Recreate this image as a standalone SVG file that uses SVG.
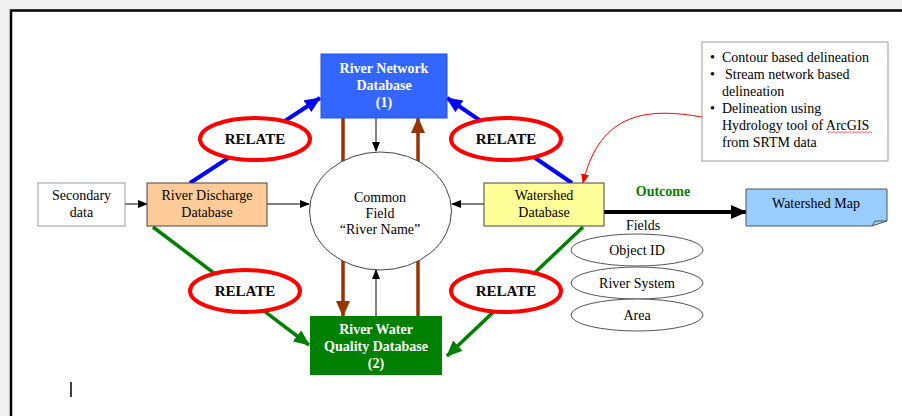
<svg xmlns="http://www.w3.org/2000/svg" width="902" height="416" viewBox="0 0 902 416">
<style>
text{font-family:"Liberation Serif","Times New Roman",serif;font-size:14px;fill:#000}
.c{text-anchor:middle}
.b{font-weight:bold}
.w{fill:#fff}
.relate{fill:#fff;stroke:#ff0000;stroke-width:4}
.fld{fill:#fff;stroke:#555;stroke-width:1}
.thin{stroke:#000;stroke-width:1;fill:none}
.blue{stroke:#0000ff;stroke-width:4;fill:none}
.green{stroke:#008000;stroke-width:3.5;fill:none}
.brown{stroke:#993300;stroke-width:3.5;fill:none}
</style>
<defs>
<marker id="ak" markerUnits="userSpaceOnUse" markerWidth="10" markerHeight="8" refX="9" refY="4" orient="auto"><path d="M0,0 L10,4 L0,8 z" fill="#000"/></marker>
<marker id="akb" markerUnits="userSpaceOnUse" markerWidth="16" markerHeight="14" refX="15" refY="7" orient="auto"><path d="M0,0 L16,7 L0,14 z" fill="#000"/></marker>
<marker id="ab" markerUnits="userSpaceOnUse" markerWidth="16" markerHeight="14" refX="15" refY="7" orient="auto"><path d="M0,0 L16,7 L0,14 z" fill="#0000ff"/></marker>
<marker id="ag" markerUnits="userSpaceOnUse" markerWidth="16" markerHeight="14" refX="15" refY="7" orient="auto"><path d="M0,0 L16,7 L0,14 z" fill="#008000"/></marker>
<marker id="abr" markerUnits="userSpaceOnUse" markerWidth="16" markerHeight="14" refX="15" refY="7" orient="auto"><path d="M0,0 L16,7 L0,14 z" fill="#993300"/></marker>
<marker id="ar" markerUnits="userSpaceOnUse" markerWidth="10" markerHeight="8" refX="9" refY="4" orient="auto"><path d="M0,0 L10,4 L0,8 z" fill="#ff0000"/></marker>
</defs>
<rect x="0" y="0" width="902" height="416" fill="#fff"/>
<rect x="0" y="0" width="902" height="9" fill="#f0f0f0"/>
<rect x="0" y="0" width="10" height="416" fill="#f0f0f0"/>
<path d="M11,416 L11,10.5 L902,10.5" fill="none" stroke="#000" stroke-width="2.5"/>

<g id="connectors">
<line class="blue" x1="190" y1="183" x2="320" y2="98" marker-end="url(#ab)"/>
<line class="blue" x1="572" y1="183" x2="447" y2="98" marker-end="url(#ab)"/>
<line class="green" x1="153" y1="227" x2="309" y2="345" marker-end="url(#ag)"/>
<line class="green" x1="583" y1="227" x2="447" y2="356" marker-end="url(#ag)"/>
<line class="brown" x1="343" y1="118" x2="343" y2="316" marker-end="url(#abr)"/>
<line class="brown" x1="418" y1="316" x2="418" y2="118" marker-end="url(#abr)"/>
<line class="thin" x1="376" y1="118" x2="376" y2="151" marker-end="url(#ak)"/>
<line class="thin" x1="376" y1="316" x2="376" y2="270" marker-end="url(#ak)"/>
<line class="thin" x1="125" y1="204" x2="147" y2="204" marker-end="url(#ak)"/>
<line class="thin" x1="267" y1="204" x2="309" y2="204" marker-end="url(#ak)"/>
<line class="thin" x1="484" y1="204" x2="452" y2="204" marker-end="url(#ak)"/>
<line x1="604" y1="212" x2="746" y2="212" stroke="#000" stroke-width="4" marker-end="url(#akb)"/>
<path d="M702,117 C650,108 600,110 583,183" fill="none" stroke="#ff0000" stroke-width="1" marker-end="url(#ar)"/>
</g>

<g id="common-field">
<ellipse cx="380.5" cy="211" rx="71" ry="59" fill="#fff" stroke="#444" stroke-width="1"/>
<text class="c" x="380" y="202">Common</text>
<text class="c" x="380" y="218">Field</text>
<text class="c" x="380" y="234">“River Name”</text>
</g>

<g id="river-network">
<rect x="321" y="54" width="126" height="64" fill="#3366ff" stroke="#2255ee" stroke-width="1"/>
<text class="c b w" x="384" y="73">River Network</text>
<text class="c b w" x="384" y="90">Database</text>
<text class="c b w" x="384" y="107">(1)</text>
</g>

<g id="river-quality">
<rect x="310" y="316" width="132" height="59" fill="#008000"/>
<text class="c b w" x="376" y="334">River Water</text>
<text class="c b w" x="376" y="351">Quality Database</text>
<text class="c b w" x="376" y="368">(2)</text>
</g>

<g id="secondary">
<rect x="38" y="183" width="87" height="43" fill="#fff" stroke="#999" stroke-width="1"/>
<text class="c" x="81.5" y="200">Secondary</text>
<text class="c" x="81.5" y="217">data</text>
</g>

<g id="discharge">
<rect x="147" y="183" width="120" height="43" fill="#ffcc99" stroke="#444" stroke-width="1"/>
<text class="c" x="207" y="200">River Discharge</text>
<text class="c" x="207" y="217">Database</text>
</g>

<g id="watershed">
<rect x="484" y="183" width="120" height="43" fill="#ffff99" stroke="#444" stroke-width="1"/>
<text class="c" x="544" y="200">Watershed</text>
<text class="c" x="544" y="217">Database</text>
</g>

<g id="watershed-map">
<path d="M746,189 L887,189 L887,221 L872,226 L746,226 Z" fill="#99ccff" stroke="#555" stroke-width="1"/>
<path d="M872,226 L875,221 L887,221" fill="none" stroke="#555" stroke-width="1"/>
<text class="c" x="816" y="208">Watershed Map</text>
</g>

<g id="relate-1">
<ellipse class="relate" cx="255" cy="139" rx="55" ry="21"/>
<text class="c b" x="255" y="144" style="font-size:15px">RELATE</text>
</g>
<g id="relate-2">
<ellipse class="relate" cx="506" cy="139" rx="55" ry="21"/>
<text class="c b" x="506" y="144" style="font-size:15px">RELATE</text>
</g>
<g id="relate-3">
<ellipse class="relate" cx="245" cy="291" rx="55" ry="21"/>
<text class="c b" x="245" y="296" style="font-size:15px">RELATE</text>
</g>
<g id="relate-4">
<ellipse class="relate" cx="506" cy="291" rx="55" ry="21"/>
<text class="c b" x="506" y="296" style="font-size:15px">RELATE</text>
</g>

<text class="c b" x="663" y="196" style="fill:#008000">Outcome</text>

<g id="fields">
<text class="c" x="643" y="230">Fields</text>
<ellipse class="fld" cx="637" cy="250" rx="66" ry="16"/>
<text class="c" x="637" y="255">Object ID</text>
<ellipse class="fld" cx="637" cy="283" rx="66" ry="16"/>
<text class="c" x="637" y="288">River System</text>
<ellipse class="fld" cx="637" cy="315" rx="66" ry="16"/>
<text class="c" x="637" y="320">Area</text>
</g>

<g id="note">
<rect x="702" y="42" width="186" height="119" fill="#fff" stroke="#999" stroke-width="1"/>
<text x="710" y="62">•</text><text x="722" y="62">Contour based delineation</text>
<text x="710" y="79">•</text><text x="725" y="79">Stream network based</text>
<text x="722" y="96">delineation</text>
<text x="710" y="113">•</text><text x="722" y="113">Delineation using</text>
<text x="722" y="130">Hydrology tool of ArcGIS</text>
<path d="M828,133 l2,-1.5 l2,1.5 l2,-1.5 l2,1.5 l2,-1.5 l2,1.5 l2,-1.5 l2,1.5 l2,-1.5 l2,1.5 l2,-1.5 l2,1.5 l2,-1.5 l2,1.5 l2,-1.5 l2,1.5 l2,-1.5 l2,1.5 l2,-1.5 l2,1.5 l2,-1.5 l2,1.5" fill="none" stroke="#ff0000" stroke-width="0.6"/>
<text x="722" y="147">from SRTM data</text>
</g>

<line x1="71" y1="382" x2="71" y2="397" stroke="#000" stroke-width="1.5"/>
</svg>
